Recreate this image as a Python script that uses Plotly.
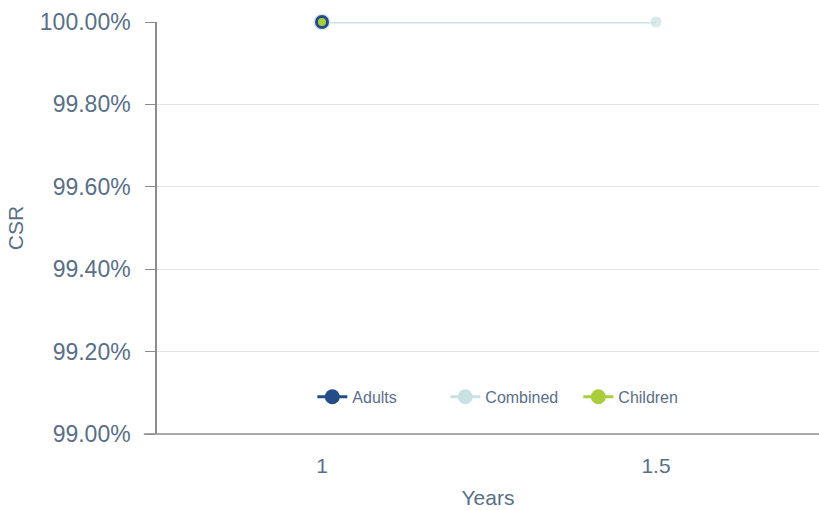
import plotly.graph_objects as go

# data
adults_years = [1]
adults_csr = [100.0]
combined_years = [1, 1.5]
combined_csr = [100.0, 100.0]
children_years = [1]
children_csr = [100.0]

y_ticks = [99.0, 99.2, 99.4, 99.6, 99.8, 100.0]
x_ticks = [1, 1.5]

font_color = "#5a6f87"
font_family = "Liberation Sans, Arial, sans-serif"

series = [
    # name, x, y, colour, marker size(s), legend rank
    ("Combined", combined_years, combined_csr, "#c8e2e4", [18, 12], 2),
    ("Adults", adults_years, adults_csr, "#234c88", 14, 1),
    ("Children", children_years, children_csr, "#a9cd3b", 8, 3),
]

fig = go.Figure()

# combined drawn first so the other markers sit on top of it
for name, xs, ys, color, size, rank in series:
    fig.add_trace(
        go.Scatter(
            x=xs,
            y=ys,
            name=name,
            mode="lines+markers",
            line=dict(color=color, width=3),
            marker=dict(color=color, size=size),
            cliponaxis=False,
            showlegend=False,
        )
    )

# legend entries with uniform marker size
for name, xs, ys, color, size, rank in series:
    fig.add_trace(
        go.Scatter(
            x=[None],
            y=[None],
            name=name,
            mode="lines+markers",
            line=dict(color=color, width=3),
            marker=dict(color=color, size=15),
            legendrank=rank,
        )
    )

fig.update_xaxes(
    range=[0.753, 1.744],
    tickvals=x_ticks,
    ticktext=[str(v) for v in x_ticks],
    showgrid=False,
    zeroline=False,
    showline=False,
    ticks="",
    ticklabelstandoff=17,
    tickfont=dict(size=21, color=font_color),
    title=dict(text="Years", font=dict(size=21, color=font_color), standoff=14),
)
fig.update_yaxes(
    range=[99.0, 100.0],
    tickvals=y_ticks,
    ticktext=[f"{v:.2f}%" for v in y_ticks],
    showgrid=True,
    gridcolor="#e4e4e4",
    gridwidth=1,
    zeroline=False,
    showline=True,
    linecolor="#8c8c8c",
    linewidth=1.5,
    ticks="outside",
    ticklen=10,
    tickcolor="#8c8c8c",
    ticklabelstandoff=10,
    tickfont=dict(size=23, color=font_color),
    title=dict(text="CSR", font=dict(size=21, color=font_color), standoff=10),
)

# bottom axis line spanning the plot and the 99.00% tick
fig.add_shape(
    type="line", xref="paper", yref="paper", x0=-0.02, x1=1, y0=0, y1=0,
    line=dict(color="#8c8c8c", width=1.5), layer="above",
)

fig.update_layout(
    width=819,
    height=510,
    margin=dict(l=157, r=0, t=22, b=76, autoexpand=False),
    paper_bgcolor="white",
    plot_bgcolor="white",
    font=dict(family=font_family, color=font_color),
    legend=dict(
        orientation="h",
        x=0.536,
        xanchor="center",
        y=0.09,
        yanchor="middle",
        font=dict(size=16, color=font_color),
        entrywidth=88,
        bgcolor="rgba(0,0,0,0)",
    ),
    showlegend=True,
)

# drop the default page margin so the chart fills the window
fig.write_html(
    "out.html",
    config={"displayModeBar": False},
    post_script="document.body.style.margin='0';document.body.style.overflow='hidden';",
)
